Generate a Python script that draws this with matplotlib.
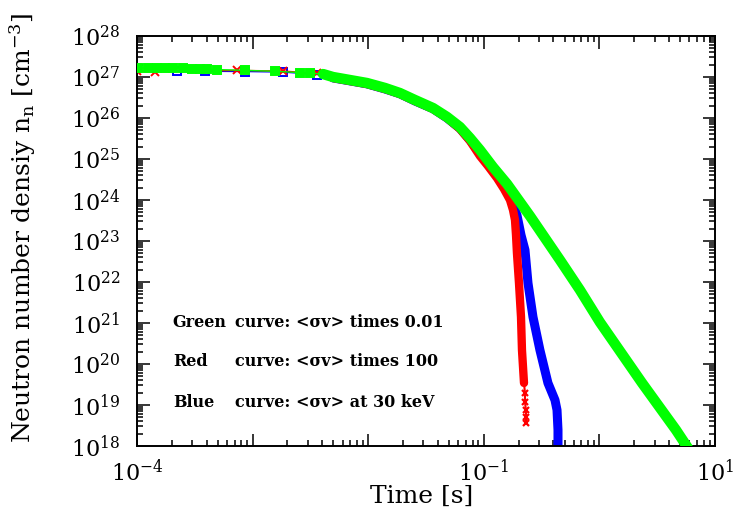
import math

import matplotlib
matplotlib.use("Agg")
import matplotlib.pyplot as plt
from matplotlib.ticker import FixedLocator, LogLocator, FuncFormatter, NullFormatter

# Green curve: <sigma v> times 0.01
green_t_early = [1.02e-4, 1.25e-4, 1.49e-4, 1.75e-4, 2.05e-4, 2.50e-4, 2.99e-4,
                 3.51e-4, 4.03e-4, 4.92e-4, 8.6e-4, 1.57e-3, 2.57e-3, 3.14e-3]
green_n_early = [1.66e27, 1.66e27, 1.65e27, 1.65e27, 1.64e27, 1.62e27, 1.60e27,
                 1.58e27, 1.56e27, 1.52e27, 1.45e27, 1.38e27, 1.28e27, 1.24e27]
green_t = [4.07e-3, 4.96e-3, 9.76e-3, 1.40e-2, 1.88e-2, 2.54e-2, 3.64e-2, 4.81e-2,
           6.22e-2, 7.60e-2, 9.27e-2, 0.120, 0.159, 0.251, 0.456, 0.679, 1.01,
           2.34, 4.60, 5.84]
green_n = [1.18e27, 1.0e27, 7.14e26, 5.4e26, 4.07e26, 2.75e26, 1.75e26, 1.06e26,
           6.03e25, 3.25e25, 1.66e25, 6.38e24, 2.46e24, 4.07e23, 3.44e22, 6.38e21,
           1.05e21, 3.44e19, 2.46e18, 8.9e17]

# Red curve: <sigma v> times 100
red_t_early = [1.0e-4, 1.43e-4, 7.33e-4, 1.83e-3, 3.6e-3]
red_n_early = [1.42e27, 1.35e27, 1.45e27, 1.40e27, 1.22e27]
red_t = [4.96e-3, 9.76e-3, 1.40e-2, 1.88e-2, 2.54e-2, 3.64e-2, 4.81e-2, 6.22e-2,
         7.60e-2, 9.27e-2, 0.1086, 0.130, 0.1496, 0.1685, 0.179, 0.1862, 0.190,
         0.1936, 0.2016, 0.2099, 0.2140, 0.2228]
red_n = [9.46e26, 6.75e26, 5.1e26, 3.85e26, 2.6e26, 1.66e26, 1.0e26, 5.40e25,
         2.75e25, 1.18e25, 6.76e24, 3.44e24, 1.85e24, 1.0e24, 5.7e23, 3.25e23,
         1.40e23, 5.1e22, 9.46e21, 1.40e21, 2.19e20, 3.44e19]
red_t_tail = [0.2272, 0.2272, 0.2317, 0.2317, 0.2317]
red_n_tail = [1.95e19, 1.17e19, 7.5e18, 5.1e18, 3.64e18]

# Blue curve: <sigma v> at 30 keV
blue_t_early = [2.22e-4, 3.87e-4, 8.6e-4, 1.83e-3, 3.6e-3]
blue_n_early = [1.38e27, 1.38e27, 1.36e27, 1.32e27, 1.15e27]
blue_t = [4.96e-3, 9.76e-3, 1.40e-2, 1.88e-2, 2.54e-2, 3.64e-2, 4.81e-2, 6.22e-2,
          7.60e-2, 9.27e-2, 0.1086, 0.130, 0.1496, 0.1685, 0.179, 0.1936, 0.2016,
          0.2099, 0.2272, 0.2412, 0.2665, 0.306, 0.359, 0.413, 0.430, 0.4385,
          0.4385]
blue_n = [9.5e26, 6.8e26, 5.1e26, 3.9e26, 2.6e26, 1.68e26, 1.0e26, 5.6e25,
          2.9e25, 1.40e25, 8.9e24, 4.82e24, 2.6e24, 1.32e24, 7.55e23, 4.30e23,
          2.46e23, 1.40e23, 6.03e22, 9.46e21, 1.40e21, 2.19e20, 3.44e19, 1.32e19,
          7.55e18, 2.46e18, 1.0e18]

labelled_decades = [-4, -1, 1]

plt.rcParams['font.family'] = 'DejaVu Serif'
plt.rcParams['mathtext.fontset'] = 'dejavuserif'

fig = plt.figure(figsize=(7.44, 5.12), dpi=100)
ax = fig.add_axes([0.1841, 0.1289, 0.7769, 0.8008])


def draw_curve(t_early, n_early, t_band, n_band, color, marker, z, lw, mfc=None):
    ax.plot(t_early + t_band, n_early + n_band, color=color, lw=1, zorder=z)
    ax.plot(t_band, n_band, color=color, lw=lw, solid_capstyle='round',
            solid_joinstyle='round', zorder=z)
    ax.plot(t_early, n_early, ls='none', marker=marker, ms=5.5, mew=1.4,
            color=color, mfc=mfc if mfc else color, zorder=z + 0.5)


draw_curve(blue_t_early, blue_n_early, blue_t, blue_n, '#0000ff', 's', 2, 6.5,
           mfc='none')
draw_curve(red_t_early, red_n_early, red_t, red_n, '#ff0000', 'x', 3, 6)
ax.plot(red_t_tail, red_n_tail, ls='none', marker='x', ms=5, mew=1.6,
        color='#ff0000', zorder=3)
ax.plot(red_t[-1:] + red_t_tail, red_n[-1:] + red_n_tail, color='#ff0000', lw=1.5,
        zorder=3)
draw_curve(green_t_early, green_n_early, green_t, green_n, '#00ff00', 's', 4, 7.5)

ax.set_xscale('log')
ax.set_yscale('log')
ax.set_xlim(1e-4, 10)
ax.set_ylim(1e18, 1e28)


def x_label(v, pos):
    k = int(round(math.log10(v)))
    if k in labelled_decades:
        return r'$10^{%d}$' % k
    return ''


def y_label(v, pos):
    return r'$10^{%d}$' % int(round(math.log10(v)))


ax.xaxis.set_major_locator(FixedLocator([10.0 ** k for k in range(-4, 2)]))
ax.xaxis.set_minor_locator(LogLocator(base=10, subs=range(2, 10), numticks=20))
ax.xaxis.set_minor_formatter(NullFormatter())
ax.xaxis.set_major_formatter(FuncFormatter(x_label))
ax.yaxis.set_major_locator(FixedLocator([10.0 ** k for k in range(18, 29)]))
ax.yaxis.set_minor_locator(LogLocator(base=10, subs=range(2, 10), numticks=20))
ax.yaxis.set_minor_formatter(NullFormatter())
ax.yaxis.set_major_formatter(FuncFormatter(y_label))

ax.tick_params(which='both', direction='in', top=True, right=True,
               width=1.1, labelsize=16)
ax.tick_params(which='major', length=9)
ax.tick_params(which='minor', length=4.5)
ax.tick_params(axis='x', pad=10)
ax.tick_params(axis='y', pad=12)
for s in ax.spines.values():
    s.set_linewidth(1.4)

fig.text(0.567, 0.030, 'Time [s]', ha='center', va='center', fontsize=18)
fig.text(0.030, 0.555, r'Neutron number densiy n$_{\rm n}$ [cm$^{-3}$]',
         rotation=90, ha='center', va='center', fontsize=18)

notes = [('Green', 'curve: <σv> times 0.01', 0.302),
         ('Red', 'curve: <σv> times 100', 0.207),
         ('Blue', 'curve: <σv> at 30 keV', 0.107)]
for name, rest, yy in notes:
    ax.text(0.062, yy, name, transform=ax.transAxes, fontsize=11.5,
            fontweight='bold', va='center')
    ax.text(0.170, yy, rest, transform=ax.transAxes, fontsize=11.5,
            fontweight='bold', va='center')

fig.savefig('out.png', dpi=100)
